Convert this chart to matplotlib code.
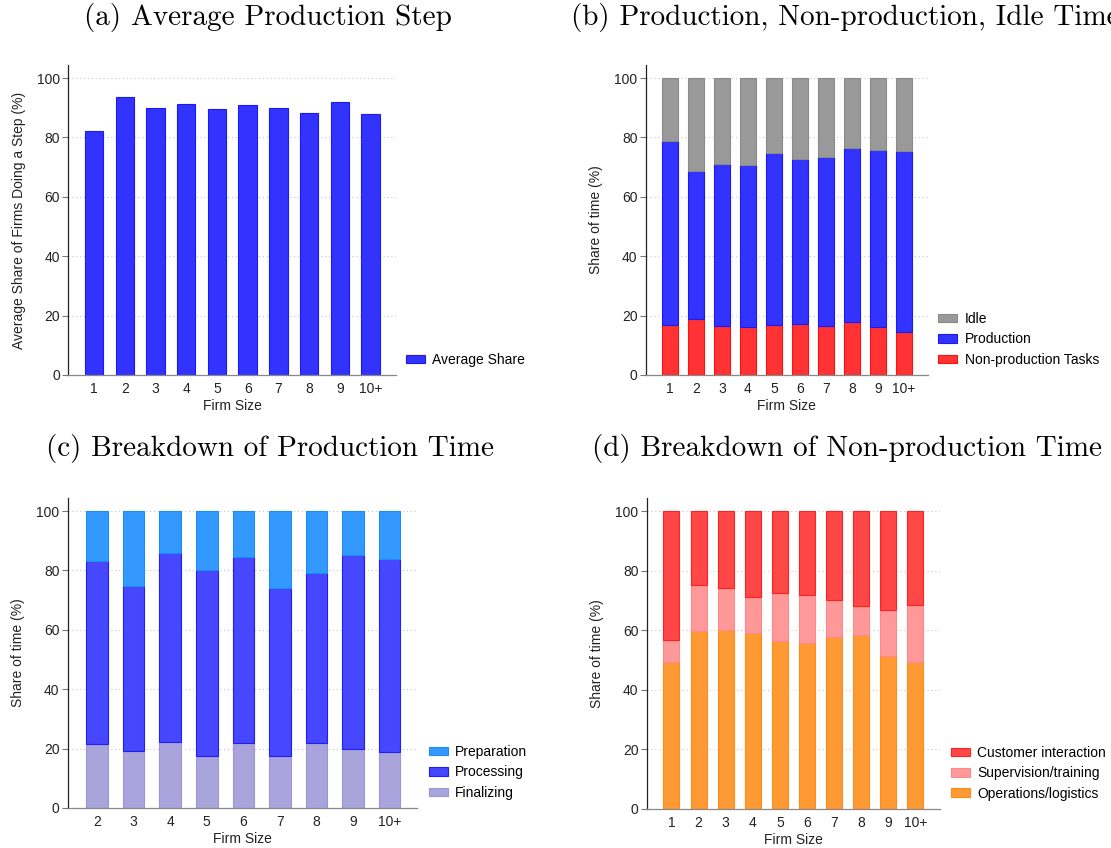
import matplotlib
matplotlib.use("Agg")
import matplotlib.pyplot as plt
import numpy as np

plt.rcParams['font.family'] = ['Liberation Sans', 'DejaVu Sans']
plt.rcParams['font.size'] = 10

# ---- data ----
sizes_a = ['1', '2', '3', '4', '5', '6', '7', '8', '9', '10+']
avg_share = [82.0, 93.5, 89.8, 91.3, 89.6, 90.8, 89.9, 88.2, 91.9, 88.0]

sizes_b = ['1', '2', '3', '4', '5', '6', '7', '8', '9', '10+']
nonprod = [16.9, 18.9, 16.6, 16.0, 16.9, 17.1, 16.6, 17.9, 16.0, 14.5]
production = [62.0, 49.9, 54.4, 54.7, 57.8, 55.6, 56.8, 58.5, 59.7, 61.0]
idle = [21.1, 31.2, 29.0, 29.3, 25.3, 27.3, 26.6, 23.6, 24.3, 24.5]

sizes_c = ['2', '3', '4', '5', '6', '7', '8', '9', '10+']
finalizing = [21.6, 19.1, 22.2, 17.5, 21.8, 17.5, 21.8, 19.9, 18.9]
processing = [61.5, 55.8, 63.6, 62.6, 62.7, 56.5, 57.3, 65.3, 64.9]
preparation = [16.9, 25.1, 14.2, 19.9, 15.5, 26.0, 20.9, 14.8, 16.2]

sizes_d = ['1', '2', '3', '4', '5', '6', '7', '8', '9', '10+']
operations = [49.5, 59.8, 60.2, 59.2, 56.5, 55.8, 57.8, 58.4, 51.2, 49.5]
supervision = [7.1, 15.4, 13.9, 12.0, 16.1, 16.0, 12.4, 9.8, 15.6, 19.0]
customer = [43.4, 24.8, 25.9, 28.8, 27.4, 28.2, 29.8, 31.8, 33.2, 31.5]

fig = plt.figure(figsize=(11.11, 8.48), dpi=100)


def style(ax, labels, ylabel, xlim):
    ax.set_ylim(0, 104.4)
    ax.set_xlim(*xlim)
    ax.set_yticks([0, 20, 40, 60, 80, 100])
    ax.set_xticks(np.arange(len(labels)))
    ax.set_xticklabels(labels)
    ax.tick_params(axis='x', length=0, pad=5, labelsize=10, colors='#222222')
    ax.tick_params(axis='y', length=4, width=0.8, color='#777777', pad=2, labelsize=10, labelcolor='#222222')
    for s in ['top', 'right']:
        ax.spines[s].set_visible(False)
    ax.spines['left'].set_color('#222222')
    ax.spines['left'].set_linewidth(0.9)
    ax.spines['bottom'].set_color('#888888')
    ax.spines['bottom'].set_linewidth(0.9)
    ax.set_axisbelow(True)
    ax.yaxis.grid(True, linestyle=(0, (1, 2.5)), color='#c8c8c8', linewidth=0.8)
    ax.set_xlabel('Firm Size', fontsize=10, labelpad=2, color='#222222')
    ax.set_ylabel(ylabel, fontsize=10, labelpad=8, color='#222222')


def legend(ax, xfrac):
    h, l = ax.get_legend_handles_labels()
    ax.legend(h[::-1], l[::-1], loc='lower left', bbox_to_anchor=(xfrac, 0.027),
              frameon=False, fontsize=10, handlelength=1.35, handleheight=0.55,
              handletextpad=0.55, labelspacing=0.45, borderpad=0, borderaxespad=0)


def stack(ax, series, colors, edges, names, width):
    x = np.arange(len(series[0]))
    bottom = np.zeros(len(x))
    for vals, c, e, n in zip(series, colors, edges, names):
        ax.bar(x, vals, width, bottom=bottom, color=c, edgecolor=e, linewidth=0.8, label=n)
        bottom = bottom + np.array(vals)


# (a)
ax1 = fig.add_axes([0.0615, 0.5578, 0.2947, 0.3656])
ax1.bar(np.arange(len(avg_share)), avg_share, 0.6, color='#3333FF', edgecolor='#1a1af5',
        linewidth=0.8, label='Average Share')
style(ax1, sizes_a, 'Average Share of Firms Doing a Step (%)', (-0.84, 9.82))
legend(ax1, 1.031)

# (b)
ax2 = fig.add_axes([0.5812, 0.5578, 0.2538, 0.3656])
stack(ax2, [nonprod, production, idle], ['#FF3333', '#3333FF', '#999999'],
      ['#FF1010', '#1a1af5', '#8a8a8a'], ['Non-production Tasks', 'Production', 'Idle'], 0.6)
style(ax2, sizes_b, 'Share of time (%)', (-0.935, 9.92))
legend(ax2, 1.037)

# (c)
ax3 = fig.add_axes([0.0611, 0.0472, 0.3142, 0.3656])
stack(ax3, [finalizing, processing, preparation], ['#A9A4DB', '#4747FF', '#3399FF'],
      ['#9c96d4', '#2020F5', '#1f8cf5'], ['Finalizing', 'Processing', 'Preparation'], 0.59)
style(ax3, sizes_c, 'Share of time (%)', (-0.8, 8.75))
legend(ax3, 1.034)

# (d)
ax4 = fig.add_axes([0.5822, 0.046, 0.2635, 0.3667])
stack(ax4, [operations, supervision, customer], ['#FF9933', '#FF9999', '#FF4747'],
      ['#FF8C1a', '#FF8888', '#FF2020'],
      ['Operations/logistics', 'Supervision/training', 'Customer interaction'], 0.59)
style(ax4, sizes_d, 'Share of time (%)', (-0.91, 9.89))
legend(ax4, 1.039)

# titles; (b) runs past the right edge in the original too
tkw = dict(fontsize=21, family='cmr10', ha='center', va='center')
fig.text(268 / 1111, 1 - 17 / 848, '(a) Average Production Step', **tkw)
fig.text(845 / 1111, 1 - 17 / 848, '(b) Production, Non-production, Idle Time', **tkw)
fig.text(270 / 1111, 1 - 449 / 848, '(c) Breakdown of Production Time', **tkw)
fig.text(847 / 1111, 1 - 449 / 848, '(d) Breakdown of Non-production Time', **tkw)

fig.savefig('out.png', dpi=100)
